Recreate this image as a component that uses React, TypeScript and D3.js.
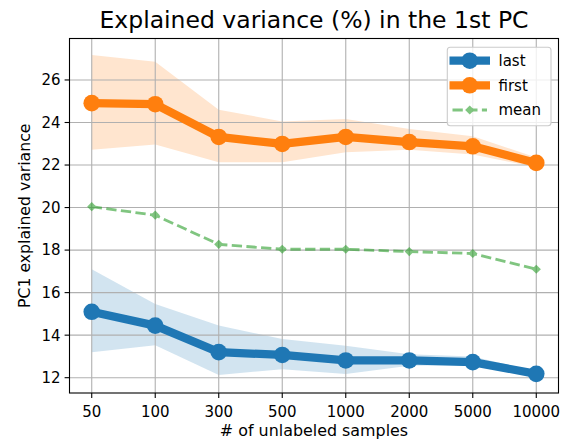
import React from "react";
import * as d3 from "d3";

const categories = ["50", "100", "300", "500", "1000", "2000", "5000", "10000"];
const yTicks = [12, 14, 16, 18, 20, 22, 24, 26];

const firstMean = [24.91, 24.86, 23.32, 22.99, 23.32, 23.08, 22.88, 22.1];
const firstUpper = [27.17, 26.86, 24.6, 24.05, 24.16, 23.7, 23.35, 22.35];
const firstLower = [22.72, 22.96, 22.13, 22.13, 22.6, 22.72, 22.5, 21.9];

const lastMean = [15.1, 14.45, 13.2, 13.07, 12.81, 12.81, 12.73, 12.18];
const lastUpper = [17.1, 15.46, 14.45, 13.82, 13.5, 13.1, 13.0, 12.3];
const lastLower = [13.2, 13.53, 12.13, 12.4, 12.17, 12.56, 12.6, 12.1];

const meanValues = [20.04, 19.64, 18.27, 18.04, 18.04, 17.93, 17.84, 17.1];

const W = 563, H = 444;
const left = 69.5, right = 558.5, top = 38.5, bottom = 393;
const font = "DejaVu Sans, sans-serif";

export default function App() {
  const x = d3.scaleLinear().domain([-0.35, categories.length - 1 + 0.35]).range([left, right]);
  const y = d3.scaleLinear().domain([11.28, 27.95]).range([bottom, top]);
  const idx = categories.map((_, i) => i);

  const area = (up: number[], lo: number[]) =>
    d3.area<number>().x((i) => x(i)).y0((i) => y(lo[i])).y1((i) => y(up[i]))(idx) || "";
  const line = (v: number[]) => d3.line<number>().x((i) => x(i)).y((i) => y(v[i]))(idx) || "";

  const blue = "#1f77b4", orange = "#ff7f0e", green = "#2ca02c";
  const diamond = (cx: number, cy: number, r: number) =>
    `M${cx},${cy - r}L${cx + r},${cy}L${cx},${cy + r}L${cx - r},${cy}Z`;

  const lx0 = 449.5, lx1 = 490, ltext = 498.5;
  const legendItems = [
    { label: "last", color: blue, yy: 60.7, kind: "big" },
    { label: "first", color: orange, yy: 85.3, kind: "big" },
    { label: "mean", color: green, yy: 110, kind: "mean" },
  ];

  return (
    <svg width={W} height={H} style={{ position: "absolute", left: 0, top: 0, background: "#fff" }} fontFamily={font}>
      <rect x={0} y={0} width={W} height={H} fill="#fff" />
      <text x={(left + right) / 2} y={28} textAnchor="middle" fontSize={23.5} fill="#000">
        Explained variance (%) in the 1st PC
      </text>
      {/* bands */}
      <path d={area(firstUpper, firstLower)} fill={orange} fillOpacity={0.2} />
      <path d={area(lastUpper, lastLower)} fill={blue} fillOpacity={0.2} />
      {/* grid */}
      {idx.map((i) => (
        <line key={"gx" + i} x1={x(i)} x2={x(i)} y1={top} y2={bottom} stroke="#b0b0b0" strokeWidth={1.1} />
      ))}
      {yTicks.map((t) => (
        <line key={"gy" + t} x1={left} x2={right} y1={y(t)} y2={y(t)} stroke="#b0b0b0" strokeWidth={1.1} />
      ))}
      {/* last */}
      <path d={line(lastMean)} fill="none" stroke={blue} strokeWidth={8.3} strokeLinejoin="round" />
      {idx.map((i) => (
        <circle key={"lc" + i} cx={x(i)} cy={y(lastMean[i])} r={8.3} fill={blue} />
      ))}
      {/* first */}
      <path d={line(firstMean)} fill="none" stroke={orange} strokeWidth={8.3} strokeLinejoin="round" />
      {idx.map((i) => (
        <circle key={"fc" + i} cx={x(i)} cy={y(firstMean[i])} r={8.3} fill={orange} />
      ))}
      {/* mean */}
      <g opacity={0.6}>
        <path d={line(meanValues)} fill="none" stroke={green} strokeWidth={2.8} strokeDasharray="10.3,4.4" />
        {idx.map((i) => (
          <path key={"md" + i} d={diamond(x(i), y(meanValues[i]), 4.6)} fill={green} />
        ))}
      </g>
      {/* spines */}
      <rect x={left} y={top} width={right - left} height={bottom - top} fill="none" stroke="#000" strokeWidth={1.1} />
      {/* x ticks */}
      {categories.map((c, i) => (
        <g key={"xt" + i}>
          <line x1={x(i)} x2={x(i)} y1={bottom} y2={bottom + 4.9} stroke="#000" strokeWidth={1.1} />
          <text x={x(i)} y={416.5} textAnchor="middle" fontSize={15} fill="#000">{c}</text>
        </g>
      ))}
      {yTicks.map((t) => (
        <g key={"yt" + t}>
          <line x1={left - 4.9} x2={left} y1={y(t)} y2={y(t)} stroke="#000" strokeWidth={1.1} />
          <text x={left - 9} y={y(t) + 5.4} textAnchor="end" fontSize={15} fill="#000">{t}</text>
        </g>
      ))}
      <text x={(left + right) / 2} y={435.5} textAnchor="middle" fontSize={15.9} fill="#000"># of unlabeled samples</text>
      <text transform={`translate(29.5,${(top + bottom) / 2}) rotate(-90)`} textAnchor="middle" fontSize={15.7} fill="#000">
        PC1 explained variance
      </text>
      {/* legend */}
      <rect x={447.3} y={47.3} width={103.7} height={78.5} rx={3} fill="#fff" fillOpacity={0.8} stroke="#cccccc" strokeWidth={1.1} />
      {legendItems.map((it) => (
        <g key={it.label}>
          {it.kind === "big" ? (
            <g>
              <line x1={lx0} x2={lx1} y1={it.yy} y2={it.yy} stroke={it.color} strokeWidth={8.3} />
              <circle cx={(lx0 + lx1) / 2} cy={it.yy} r={8.3} fill={it.color} />
            </g>
          ) : (
            <g opacity={0.6}>
              <line x1={lx0 + 3} x2={lx1 - 3} y1={it.yy} y2={it.yy} stroke={it.color} strokeWidth={2.8} strokeDasharray="10.3,4.4" />
              <path d={diamond((lx0 + lx1) / 2, it.yy, 4.6)} fill={it.color} />
            </g>
          )}
          <text x={ltext} y={it.yy + 5.4} fontSize={15} fill="#000">{it.label}</text>
        </g>
      ))}
    </svg>
  );
}
